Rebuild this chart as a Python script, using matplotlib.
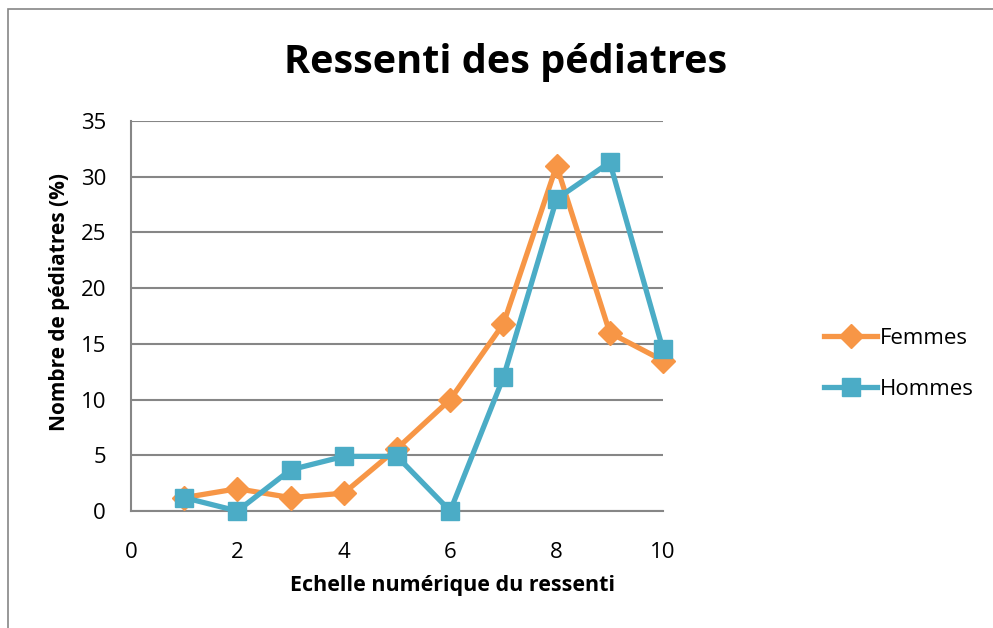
import matplotlib.pyplot as plt
from matplotlib.patches import Rectangle

# Data
echelle = [1, 2, 3, 4, 5, 6, 7, 8, 9, 10]
femmes = [1.2, 2.0, 1.2, 1.6, 5.6, 10.0, 16.8, 31.0, 16.0, 13.5]
hommes = [1.2, 0.0, 3.7, 4.9, 4.9, 0.0, 12.0, 28.0, 31.3, 14.5]
x_ticks = [0, 2, 4, 6, 8, 10]
y_ticks = [0, 5, 10, 15, 20, 25, 30, 35]

orange = '#F79646'
bleu = '#4BACC6'
gris = '#868686'

plt.rcParams['font.family'] = ['Open Sans', 'DejaVu Sans']

fig = plt.figure(figsize=(9.93, 6.28), dpi=100)
W, H = 993, 628
ax = fig.add_axes([131 / W, 1 - 511 / H, (663 - 131) / W, (511 - 121) / H])

# outer chart border (cropped at right and bottom)
fig.patches.append(Rectangle((8 / W, -0.05), 1.1, 1 - 9 / H + 0.05,
                             transform=fig.transFigure, fill=False,
                             edgecolor=gris, linewidth=1.2))

ax.plot(echelle, femmes, color=orange, linewidth=3.8, marker='D',
        markersize=12.5, label='Femmes', zorder=3, clip_on=False)
ax.plot(echelle, hommes, color=bleu, linewidth=3.8, marker='s',
        markersize=13.5, label='Hommes', zorder=4, clip_on=False)

ax.set_xlim(0, 10)
ax.set_ylim(0, 35)
ax.set_xticks(x_ticks)
ax.set_yticks(y_ticks)
ax.tick_params(axis='both', length=0, labelsize=16)
ax.tick_params(axis='x', pad=22)
ax.tick_params(axis='y', pad=18)

ax.yaxis.grid(True, color=gris, linewidth=1.5)
ax.set_axisbelow(True)
for side in ['top', 'right']:
    ax.spines[side].set_visible(False)
for side in ['left', 'bottom']:
    ax.spines[side].set_color(gris)
    ax.spines[side].set_linewidth(1.5)

# axis titles placed like the Excel chart
fig.text(452 / W, 1 - 585 / H, 'Echelle numérique du ressenti', fontsize=15.5,
         fontweight='bold', ha='center', va='center')
fig.text(60 / W, 1 - 302 / H, 'Nombre de pédiatres (%)', fontsize=15,
         fontweight='bold', ha='center', va='center', rotation=90)

fig.text(506 / W, 1 - 63 / H, 'Ressenti des pédiatres', fontsize=28.5,
         fontweight='bold', ha='center', va='center')

ax.legend(loc='center left', bbox_to_anchor=(804 / W, 1 - 364 / H),
          bbox_transform=fig.transFigure, frameon=False, fontsize=16,
          handlelength=2.4, handletextpad=0.1, labelspacing=1.35)

fig.savefig('out.png', dpi=100)
